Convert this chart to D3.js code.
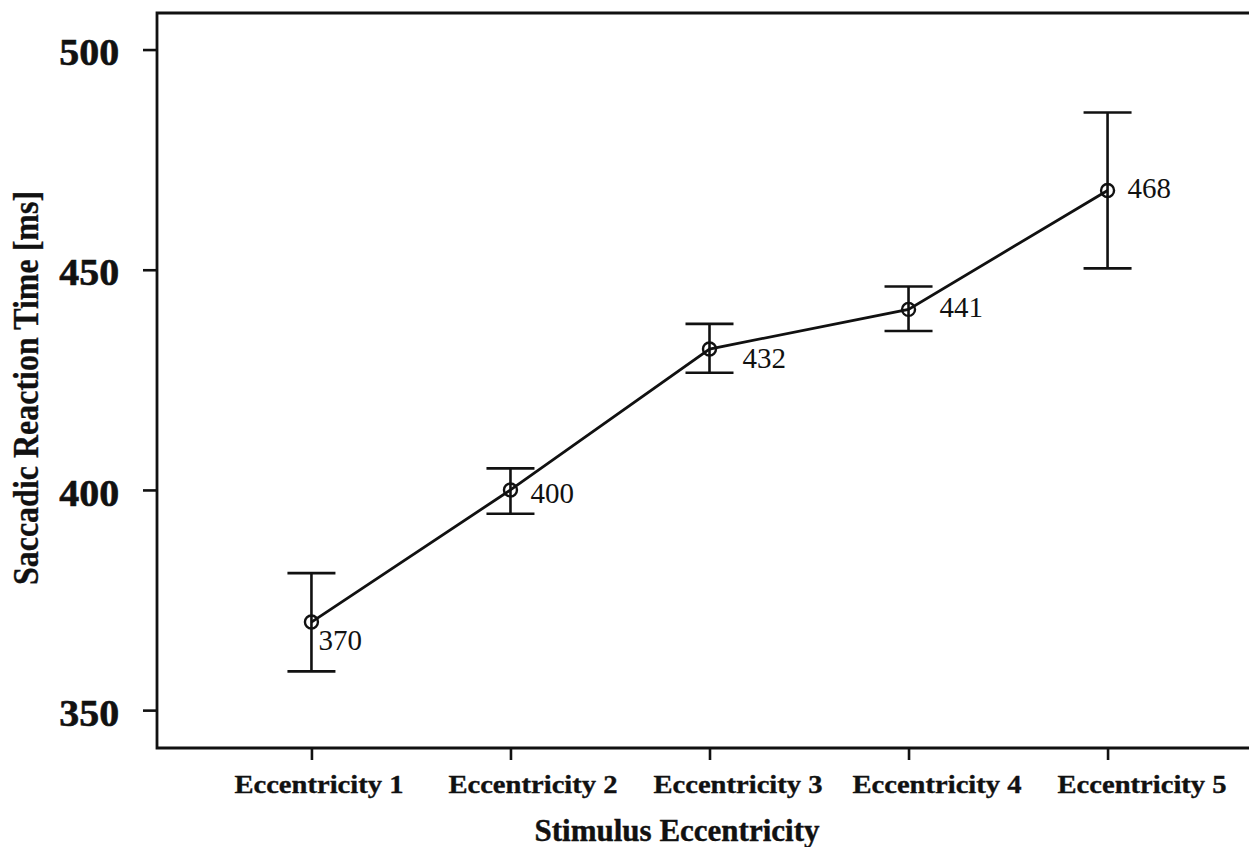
<!DOCTYPE html>
<html>
<head>
<meta charset="utf-8">
<script src="https://cdn.jsdelivr.net/npm/d3@7"></script>
<style>
  html, body { margin: 0; padding: 0; background: #fff; }
  svg { display: block; }
</style>
</head>
<body>
<svg id="chart" width="1249" height="847"></svg>
<script>
const categories = ["Eccentricity 1", "Eccentricity 2", "Eccentricity 3", "Eccentricity 4", "Eccentricity 5"];
const meanValues = [370, 400, 432, 441, 468];
const upperValues = [381.1, 404.9, 437.7, 446.2, 485.7];
const lowerValues = [358.8, 394.6, 426.6, 436.1, 450.3];
const yTickValues = [350, 400, 450, 500];
const yTitle = "Saccadic Reaction Time [ms]";
const xTitle = "Stimulus Eccentricity";
// layout: value-label offsets and tick-label shifts (not data)
const labelOffsets = [[7, 28], [20, 13], [33, 19], [31, 8], [20, 8]];
const tickLabelShift = [7, 22, 28, 28, 34];

(function () {
const svg = d3.select("#chart");
const pLeft = 157, pTop = 13, pBottom = 748, pRight = 1262;
const serif = "'Liberation Serif', 'Times New Roman', serif";
const ink = "#111";

const x = d3.scalePoint().domain(categories).range([pLeft, pRight]).padding(0.776);
const y = d3.scaleLinear().domain([341.4, 508.3]).range([pBottom, pTop]);

// Axes
const yAxis = d3.axisLeft(y).tickValues(yTickValues).tickSize(14).tickPadding(22).tickSizeOuter(0);
const gy = svg.append("g").attr("transform", `translate(${pLeft},0)`).call(yAxis);
gy.select(".domain").remove();
gy.selectAll(".tick line").attr("stroke", ink).attr("stroke-width", 2.6);
gy.selectAll(".tick text").attr("font-family", serif).attr("font-weight", "bold")
  .attr("font-size", 38).attr("fill", ink).attr("stroke", ink).attr("stroke-width", 0.6)
  .attr("dy", "0.4em").attr("transform", "scale(1.05,1)");

const xAxis = d3.axisBottom(x).tickSize(12).tickPadding(16).tickSizeOuter(0);
const gx = svg.append("g").attr("transform", `translate(0,${pBottom})`).call(xAxis);
gx.select(".domain").remove();
gx.selectAll(".tick line").attr("stroke", ink).attr("stroke-width", 2.6);
gx.selectAll(".tick text").attr("font-family", serif).attr("font-weight", "bold")
  .attr("font-size", 26).attr("fill", ink).attr("stroke", ink).attr("stroke-width", 0.35)
  .attr("dy", "0.67em")
  .attr("transform", (d, i) => `translate(${tickLabelShift[i]},0) scale(1.1,1)`);

// Frame (left, top, bottom)
const frame = d3.path();
frame.moveTo(pRight, pTop); frame.lineTo(pLeft, pTop); frame.lineTo(pLeft, pBottom); frame.lineTo(pRight, pBottom);
svg.append("path").attr("d", frame.toString()).attr("fill", "none")
  .attr("stroke", ink).attr("stroke-width", 2.8);

// Error bars
const capW = 24;
const eb = svg.append("g").attr("stroke", ink).attr("stroke-width", 2.6).attr("fill", "none");
categories.forEach((c, i) => {
  const cx = x(c);
  eb.append("line").attr("x1", cx).attr("x2", cx).attr("y1", y(upperValues[i])).attr("y2", y(lowerValues[i]));
  eb.append("line").attr("x1", cx - capW).attr("x2", cx + capW).attr("y1", y(upperValues[i])).attr("y2", y(upperValues[i]));
  eb.append("line").attr("x1", cx - capW).attr("x2", cx + capW).attr("y1", y(lowerValues[i])).attr("y2", y(lowerValues[i]));
});

// Line
const line = d3.line().x((d, i) => x(categories[i])).y(d => y(d));
svg.append("path").datum(meanValues).attr("d", line).attr("fill", "none")
  .attr("stroke", ink).attr("stroke-width", 2.8);

// Markers
svg.append("g").selectAll("circle").data(meanValues).join("circle")
  .attr("cx", (d, i) => x(categories[i])).attr("cy", d => y(d)).attr("r", 6.5)
  .attr("fill", "none").attr("stroke", ink).attr("stroke-width", 2.4);

// Value labels
svg.append("g").selectAll("text").data(meanValues).join("text")
  .attr("x", (d, i) => x(categories[i]) + labelOffsets[i][0])
  .attr("y", (d, i) => y(d) + labelOffsets[i][1])
  .attr("font-family", serif).attr("font-size", 29).attr("fill", ink)
  .text(d => d);

// Axis titles
svg.append("text").attr("x", 677).attr("y", 841).attr("text-anchor", "middle")
  .attr("font-family", serif).attr("font-weight", "bold").attr("font-size", 31).attr("fill", ink)
  .attr("stroke", ink).attr("stroke-width", 0.4)
  .text(xTitle);
svg.append("text").attr("transform", "translate(38,388) scale(1.15,1) rotate(-90)").attr("text-anchor", "middle")
  .attr("font-family", serif).attr("font-weight", "bold").attr("font-size", 32).attr("fill", ink)
  .attr("stroke", ink).attr("stroke-width", 0.3)
  .text(yTitle);
})();
</script>
</body>
</html>
